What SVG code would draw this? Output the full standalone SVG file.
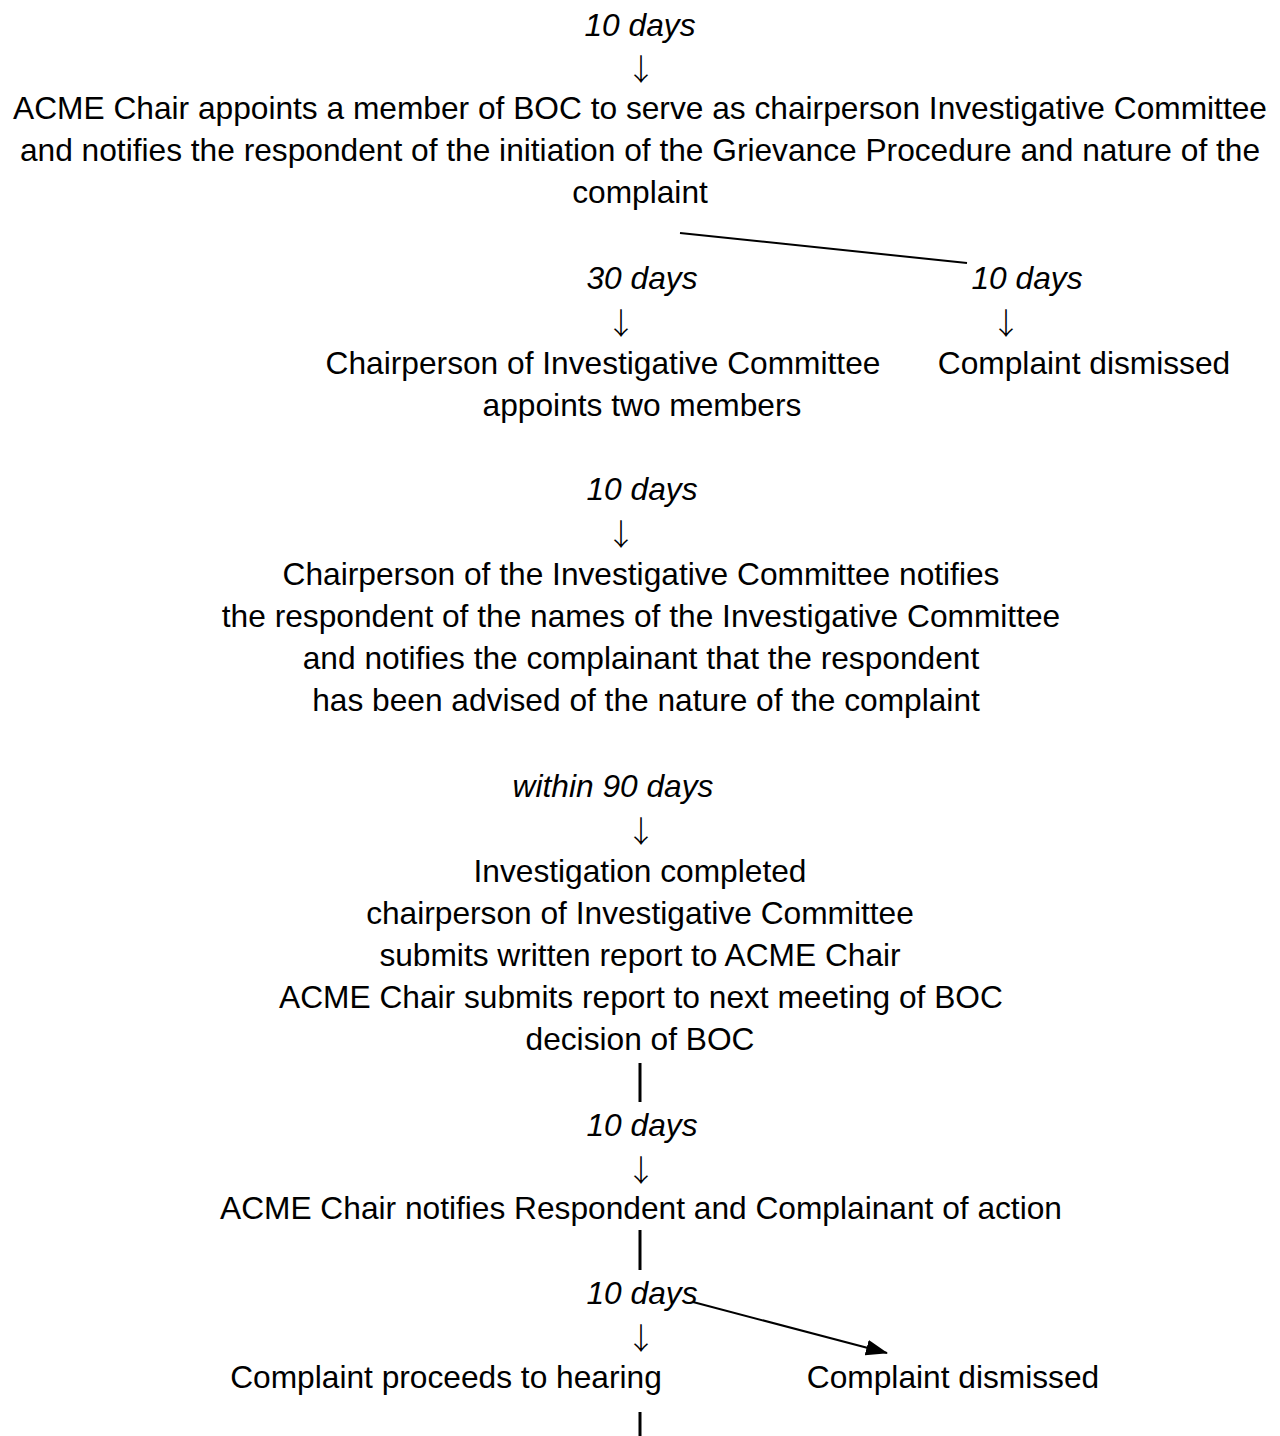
<svg xmlns="http://www.w3.org/2000/svg" width="1280" height="1436" viewBox="0 0 1280 1436">
<defs>
<style>
text{font-family:"Liberation Sans",Arial,sans-serif;font-size:31.7px;fill:#000;text-anchor:middle}
.it{font-style:italic}
.ar{font-family:"Noto Sans CJK JP","Liberation Sans",sans-serif;font-size:30px;font-weight:300}
.ln{stroke:#000;stroke-width:2;fill:none}
.bar{stroke:#000;stroke-width:3}
</style>
<marker id="ah" markerWidth="22" markerHeight="16" refX="21" refY="8" orient="auto" markerUnits="userSpaceOnUse"><path d="M0,0 L22,8 L0,16 Z" fill="#000"/></marker>
</defs>
<rect width="1280" height="1436" fill="#fff"/>
<g id="n1">
<text class="it" x="640" y="36">10 days</text>
<text class="ar" x="641" y="80">↓</text>
<text x="640" y="119">ACME Chair appoints a member of BOC to serve as chairperson Investigative Committee</text>
<text x="640" y="161">and notifies the respondent of the initiation of the Grievance Procedure and nature of the</text>
<text x="640" y="203">complaint</text>
</g>
<g id="n2">
<text class="it" x="642" y="289">30 days</text>
<text class="ar" x="621" y="334">↓</text>
<text x="603" y="374">Chairperson of Investigative Committee</text>
<text x="642" y="416">appoints two members</text>
</g>
<g id="n3">
<text class="it" x="1027" y="289">10 days</text>
<text class="ar" x="1006" y="334">↓</text>
<text x="1084" y="374">Complaint dismissed</text>
</g>
<g id="n4">
<text class="it" x="642" y="500">10 days</text>
<text class="ar" x="621" y="545">↓</text>
<text x="641" y="585">Chairperson of the Investigative Committee notifies</text>
<text x="641" y="627">the respondent of the names of the Investigative Committee</text>
<text x="641" y="669">and notifies the complainant that the respondent</text>
<text x="646" y="711">has been advised of the nature of the complaint</text>
</g>
<g id="n5">
<text class="it" x="613" y="797">within 90 days</text>
<text class="ar" x="641" y="842">↓</text>
<text x="640" y="882">Investigation completed</text>
<text x="640" y="924">chairperson of Investigative Committee</text>
<text x="640" y="966">submits written report to ACME Chair</text>
<text x="641" y="1008">ACME Chair submits report to next meeting of BOC</text>
<text x="640" y="1050">decision of BOC</text>
</g>
<g id="n6">
<text class="it" x="642" y="1136">10 days</text>
<text class="ar" x="641" y="1181">↓</text>
<text x="641" y="1219">ACME Chair notifies Respondent and Complainant of action</text>
</g>
<g id="n7">
<text class="it" x="642" y="1304">10 days</text>
<text class="ar" x="641" y="1349">↓</text>
<text x="446" y="1388">Complaint proceeds to hearing</text>
</g>
<g id="n8">
<text x="953" y="1388">Complaint dismissed</text>
</g>
<g id="connectors">
<line class="ln" x1="680" y1="233" x2="967" y2="263"/>
<line class="bar" x1="640" y1="1063" x2="640" y2="1102"/>
<line class="bar" x1="640" y1="1230" x2="640" y2="1270"/>
<line class="ln" x1="693" y1="1302" x2="887" y2="1353" marker-end="url(#ah)"/>
<line class="bar" x1="640" y1="1412" x2="640" y2="1436"/>
</g>
</svg>
